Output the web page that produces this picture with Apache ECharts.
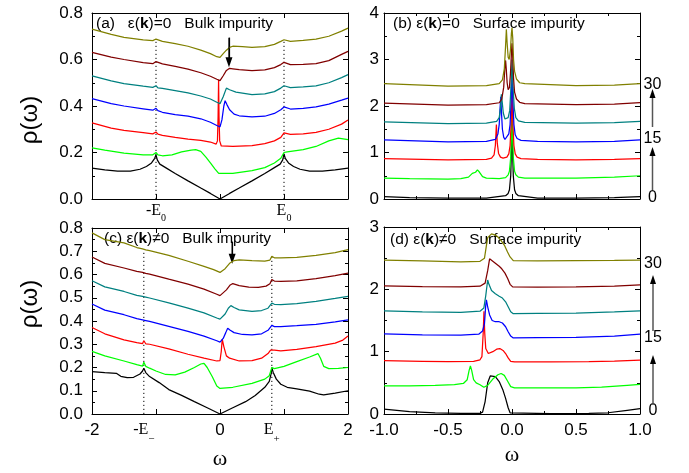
<!DOCTYPE html>
<html><head><meta charset="utf-8">
<script src="https://cdn.jsdelivr.net/npm/echarts@6/dist/echarts.min.js"></script>
<style>html,body{margin:0;padding:0;background:#fff}#c{width:689px;height:473px}</style>
</head><body><div id="c"></div>
<script>
// ---------- colours (series order 0 -> 30) ----------
const lineColors = ['#000000', '#00ff00', '#ff0000', '#0000ff', '#008080', '#800000', '#808000'];

// ---------- panel (a): eps(k)=0, bulk impurity ----------
const a_black = [[-2,0.133],[-1.8,0.125],[-1.6,0.12],[-1.4,0.12],[-1.25,0.128],[-1.15,0.14],[-1.07,0.155],[-1.02,0.175],[-1,0.19],[-0.98,0.168],[-0.94,0.15],[-0.85,0.135],[-0.7,0.11],[-0.5,0.078],[-0.3,0.047],[-0.15,0.024],[0,0],[0.15,0.024],[0.3,0.047],[0.5,0.078],[0.7,0.11],[0.85,0.135],[0.94,0.15],[0.98,0.168],[1,0.194],[1.02,0.175],[1.07,0.155],[1.15,0.14],[1.25,0.128],[1.4,0.12],[1.6,0.12],[1.8,0.125],[2,0.133]];
const a_green = [[-2,0.22],[-1.8,0.21],[-1.5,0.197],[-1.2,0.19],[-1.05,0.19],[-1,0.2],[-0.97,0.19],[-0.9,0.186],[-0.75,0.19],[-0.6,0.203],[-0.45,0.21],[-0.38,0.212],[-0.3,0.205],[-0.22,0.18],[-0.15,0.155],[-0.08,0.13],[-0.02,0.11],[0,0.105],[0.2,0.11],[0.5,0.122],[0.7,0.135],[0.85,0.155],[0.95,0.175],[1,0.2],[1.05,0.203],[1.3,0.212],[1.5,0.226],[1.7,0.25],[1.85,0.262],[1.95,0.258],[2,0.255]];
const a_red = [[-2,0.327],[-1.7,0.305],[-1.5,0.295],[-1.2,0.285],[-1.05,0.28],[-1,0.288],[-0.97,0.279],[-0.9,0.274],[-0.7,0.265],[-0.5,0.258],[-0.3,0.252],[-0.15,0.245],[-0.06,0.236],[-0.04,0.25],[-0.03,0.35],[-0.022,0.513],[-0.015,0.35],[-0.005,0.25],[0.02,0.228],[0.2,0.226],[0.5,0.23],[0.7,0.238],[0.85,0.25],[0.95,0.265],[1,0.284],[1.03,0.279],[1.1,0.278],[1.3,0.28],[1.5,0.287],[1.7,0.3],[1.9,0.322],[2,0.34]];
const a_blue = [[-2,0.432],[-1.7,0.41],[-1.5,0.4],[-1.2,0.388],[-1.05,0.382],[-1,0.39],[-0.97,0.38],[-0.9,0.373],[-0.7,0.363],[-0.5,0.356],[-0.3,0.345],[-0.15,0.33],[-0.05,0.316],[0,0.31],[0.03,0.34],[0.06,0.4],[0.08,0.423],[0.11,0.405],[0.15,0.384],[0.22,0.365],[0.3,0.358],[0.5,0.353],[0.7,0.356],[0.85,0.368],[0.95,0.384],[1,0.396],[1.03,0.388],[1.1,0.387],[1.3,0.39],[1.5,0.396],[1.7,0.408],[1.9,0.425],[2,0.434]];
const a_teal = [[-2,0.53],[-1.7,0.508],[-1.5,0.496],[-1.2,0.485],[-1.05,0.48],[-1,0.487],[-0.97,0.478],[-0.9,0.476],[-0.7,0.466],[-0.5,0.456],[-0.3,0.443],[-0.15,0.43],[-0.05,0.416],[0,0.41],[0.05,0.44],[0.1,0.477],[0.15,0.47],[0.25,0.46],[0.5,0.449],[0.7,0.452],[0.85,0.462],[0.95,0.477],[1,0.487],[1.03,0.48],[1.1,0.479],[1.3,0.482],[1.5,0.487],[1.7,0.5],[1.9,0.522],[2,0.535]];
const a_darkred = [[-2,0.631],[-1.7,0.61],[-1.5,0.6],[-1.2,0.587],[-1.05,0.582],[-1,0.591],[-0.97,0.583],[-0.9,0.581],[-0.7,0.57],[-0.5,0.559],[-0.3,0.543],[-0.15,0.528],[-0.05,0.515],[0,0.509],[0.05,0.53],[0.1,0.553],[0.15,0.562],[0.2,0.56],[0.3,0.556],[0.5,0.552],[0.7,0.555],[0.85,0.565],[0.95,0.578],[1,0.588],[1.03,0.58],[1.1,0.578],[1.3,0.579],[1.5,0.582],[1.7,0.595],[1.9,0.622],[2,0.635]];
const a_olive = [[-2,0.731],[-1.7,0.708],[-1.5,0.695],[-1.2,0.684],[-1.05,0.681],[-1,0.688],[-0.97,0.68],[-0.9,0.678],[-0.7,0.668],[-0.5,0.657],[-0.3,0.64],[-0.15,0.625],[-0.05,0.612],[0,0.609],[0.05,0.625],[0.1,0.64],[0.15,0.652],[0.2,0.657],[0.35,0.655],[0.5,0.652],[0.7,0.655],[0.85,0.665],[0.95,0.678],[1,0.685],[1.03,0.679],[1.1,0.678],[1.3,0.682],[1.5,0.688],[1.7,0.7],[1.9,0.722],[2,0.735]];

// ---------- panel (b): eps(k)=0, surface impurity ----------
const b_black = [[-1,0.05],[-0.8,0.03],[-0.5,0.02],[-0.2,0.02],[-0.05,0.07],[-0.03,0.12],[-0.02,0.2],[-0.01,0.5],[-0.005,1.0],[0,1.6],[0.005,1.0],[0.01,0.5],[0.02,0.2],[0.03,0.12],[0.05,0.07],[0.2,0.02],[0.5,0.02],[0.8,0.03],[1,0.05]];
const b_green = [[-1,0.45],[-0.8,0.44],[-0.5,0.43],[-0.4,0.44],[-0.34,0.47],[-0.31,0.55],[-0.295,0.59],[-0.285,0.575],[-0.27,0.625],[-0.255,0.58],[-0.23,0.48],[-0.2,0.45],[-0.1,0.44],[-0.05,0.46],[-0.03,0.52],[-0.02,0.6],[-0.01,0.9],[-0.005,1.3],[0,1.9],[0.005,1.3],[0.01,0.9],[0.02,0.6],[0.03,0.52],[0.05,0.47],[0.1,0.45],[0.5,0.45],[0.8,0.47],[1,0.5]];
const b_red = [[-1,0.87],[-0.5,0.84],[-0.2,0.85],[-0.16,0.88],[-0.14,0.95],[-0.13,1.15],[-0.122,1.6],[-0.115,1.2],[-0.105,0.98],[-0.09,0.9],[-0.07,0.88],[-0.04,0.9],[-0.025,0.97],[-0.015,1.15],[-0.007,1.6],[0,2.3],[0.007,1.6],[0.015,1.15],[0.025,0.97],[0.04,0.9],[0.07,0.87],[0.2,0.85],[0.5,0.84],[0.8,0.85],[1,0.87]];
const b_blue = [[-1,1.27],[-0.5,1.23],[-0.2,1.24],[-0.13,1.28],[-0.11,1.4],[-0.1,1.6],[-0.092,2.0],[-0.088,2.2],[-0.083,1.9],[-0.075,1.5],[-0.065,1.33],[-0.055,1.28],[-0.04,1.3],[-0.025,1.4],[-0.015,1.6],[-0.007,2.1],[0,2.7],[0.007,2.1],[0.015,1.6],[0.025,1.38],[0.04,1.3],[0.07,1.26],[0.2,1.24],[0.5,1.23],[0.8,1.24],[1,1.27]];
const b_teal = [[-1,1.66],[-0.5,1.62],[-0.2,1.63],[-0.12,1.67],[-0.1,1.75],[-0.09,1.95],[-0.083,2.25],[-0.077,2.1],[-0.068,1.85],[-0.055,1.72],[-0.045,1.7],[-0.03,1.75],[-0.018,1.9],[-0.008,2.4],[0,3.0],[0.008,2.4],[0.018,1.95],[0.03,1.75],[0.05,1.68],[0.1,1.65],[0.5,1.63],[0.8,1.64],[1,1.67]];
const b_darkred = [[-1,2.06],[-0.5,2.02],[-0.2,2.03],[-0.1,2.07],[-0.08,2.15],[-0.065,2.4],[-0.055,2.85],[-0.05,2.98],[-0.045,2.8],[-0.038,2.5],[-0.03,2.35],[-0.02,2.4],[-0.012,2.7],[-0.005,3.1],[0,3.35],[0.005,3.1],[0.012,2.6],[0.02,2.3],[0.035,2.15],[0.06,2.08],[0.1,2.05],[0.5,2.03],[0.8,2.04],[1,2.07]];
const b_olive = [[-1,2.48],[-0.5,2.43],[-0.2,2.44],[-0.1,2.48],[-0.075,2.56],[-0.06,2.8],[-0.05,3.3],[-0.044,3.65],[-0.038,3.35],[-0.03,3.05],[-0.022,3.0],[-0.012,3.2],[-0.005,3.55],[0,3.68],[0.006,3.45],[0.012,3.0],[0.02,2.75],[0.035,2.58],[0.06,2.5],[0.1,2.48],[0.5,2.44],[0.8,2.45],[1,2.48]];

// ---------- panel (c): eps(k)!=0, bulk impurity ----------
const c_black = [[-2,0.182],[-1.8,0.178],[-1.62,0.175],[-1.55,0.162],[-1.45,0.156],[-1.35,0.158],[-1.25,0.172],[-1.21,0.185],[-1.19,0.197],[-1.16,0.178],[-1.1,0.161],[-0.95,0.135],[-0.8,0.105],[-0.6,0.08],[-0.4,0.053],[-0.2,0.027],[0,0],[0.2,0.027],[0.4,0.053],[0.55,0.08],[0.7,0.115],[0.77,0.14],[0.8,0.175],[0.81,0.2],[0.83,0.18],[0.88,0.15],[0.95,0.128],[1.05,0.115],[1.2,0.108],[1.4,0.098],[1.55,0.085],[1.62,0.082],[1.8,0.09],[2,0.1]];
const c_green = [[-2,0.269],[-1.8,0.25],[-1.5,0.228],[-1.3,0.212],[-1.21,0.206],[-1.19,0.223],[-1.16,0.205],[-1.1,0.197],[-1,0.185],[-0.85,0.17],[-0.7,0.168],[-0.55,0.18],[-0.4,0.2],[-0.3,0.215],[-0.25,0.218],[-0.2,0.2],[-0.12,0.16],[-0.05,0.12],[0,0.11],[0.2,0.115],[0.5,0.132],[0.7,0.15],[0.77,0.165],[0.81,0.2],[0.85,0.195],[1,0.205],[1.2,0.225],[1.4,0.245],[1.53,0.26],[1.57,0.24],[1.62,0.205],[1.7,0.195],[1.85,0.196],[2,0.2]];
const c_red = [[-2,0.372],[-1.8,0.345],[-1.5,0.319],[-1.3,0.307],[-1.21,0.303],[-1.19,0.315],[-1.16,0.302],[-1.1,0.3],[-0.8,0.28],[-0.5,0.257],[-0.25,0.24],[-0.05,0.228],[0,0.23],[0.02,0.27],[0.035,0.322],[0.06,0.29],[0.1,0.25],[0.15,0.24],[0.3,0.228],[0.5,0.23],[0.65,0.24],[0.75,0.26],[0.79,0.275],[0.81,0.283],[0.85,0.275],[0.95,0.272],[1.2,0.278],[1.5,0.29],[1.8,0.305],[1.92,0.318],[2,0.335]];
const c_blue = [[-2,0.473],[-1.8,0.447],[-1.5,0.427],[-1.3,0.41],[-1.21,0.405],[-1.19,0.413],[-1.16,0.402],[-1.1,0.398],[-0.8,0.377],[-0.5,0.355],[-0.25,0.335],[-0.05,0.315],[0,0.309],[0.05,0.325],[0.09,0.35],[0.12,0.369],[0.16,0.36],[0.22,0.35],[0.35,0.342],[0.5,0.34],[0.65,0.345],[0.75,0.36],[0.81,0.381],[0.85,0.376],[0.95,0.376],[1.2,0.38],[1.5,0.386],[1.8,0.396],[2,0.405]];
const c_teal = [[-2,0.573],[-1.8,0.547],[-1.5,0.527],[-1.3,0.51],[-1.21,0.506],[-1.19,0.513],[-1.16,0.503],[-1.1,0.499],[-0.8,0.478],[-0.5,0.455],[-0.25,0.435],[-0.05,0.413],[0,0.408],[0.08,0.43],[0.13,0.455],[0.17,0.466],[0.22,0.458],[0.3,0.448],[0.5,0.441],[0.65,0.445],[0.75,0.455],[0.81,0.477],[0.85,0.472],[0.95,0.47],[1.2,0.475],[1.5,0.484],[1.8,0.497],[2,0.506]];
const c_darkred = [[-2,0.675],[-1.8,0.648],[-1.5,0.628],[-1.3,0.613],[-1.21,0.609],[-1.19,0.616],[-1.16,0.605],[-1.1,0.602],[-0.8,0.58],[-0.5,0.559],[-0.25,0.537],[-0.05,0.515],[0,0.509],[0.1,0.534],[0.16,0.555],[0.2,0.561],[0.3,0.552],[0.45,0.546],[0.6,0.545],[0.72,0.55],[0.78,0.56],[0.81,0.578],[0.85,0.572],[0.95,0.57],[1.2,0.573],[1.5,0.582],[1.8,0.595],[2,0.606]];
const c_olive = [[-2,0.779],[-1.8,0.75],[-1.5,0.736],[-1.3,0.716],[-1.21,0.71],[-1.19,0.717],[-1.16,0.706],[-1.1,0.703],[-0.8,0.682],[-0.5,0.657],[-0.25,0.635],[-0.1,0.621],[0,0.609],[0.08,0.625],[0.15,0.648],[0.22,0.66],[0.3,0.663],[0.5,0.66],[0.7,0.658],[0.78,0.662],[0.81,0.678],[0.85,0.672],[0.95,0.671],[1.2,0.674],[1.5,0.682],[1.8,0.694],[2,0.707]];

// ---------- panel (d): eps(k)!=0, surface impurity ----------
const d_black = [[-1,0.08],[-0.9,0.06],[-0.8,0.04],[-0.6,0.02],[-0.4,0.01],[-0.25,0.01],[-0.23,0.03],[-0.21,0.2],[-0.19,0.5],[-0.17,0.61],[-0.155,0.635],[-0.13,0.6],[-0.1,0.52],[-0.07,0.38],[-0.05,0.25],[-0.03,0.1],[-0.015,0.02],[0,0.01],[0.3,0.005],[0.6,0.01],[0.75,0.02],[0.9,0.06],[1,0.085]];
const d_green = [[-1,0.45],[-0.8,0.45],[-0.6,0.46],[-0.45,0.47],[-0.38,0.49],[-0.35,0.55],[-0.335,0.7],[-0.325,0.77],[-0.315,0.7],[-0.3,0.55],[-0.28,0.5],[-0.25,0.47],[-0.22,0.43],[-0.19,0.46],[-0.15,0.56],[-0.11,0.63],[-0.085,0.65],[-0.06,0.62],[-0.035,0.53],[-0.01,0.44],[0.02,0.42],[0.2,0.42],[0.5,0.42],[0.7,0.43],[0.9,0.46],[1,0.475]];
const d_red = [[-1,0.855],[-0.7,0.845],[-0.5,0.84],[-0.3,0.845],[-0.25,0.87],[-0.235,0.92],[-0.225,1.3],[-0.219,1.65],[-0.213,1.3],[-0.205,1.05],[-0.185,0.97],[-0.15,1.0],[-0.12,1.04],[-0.095,1.05],[-0.07,1.02],[-0.05,0.97],[-0.03,0.9],[-0.01,0.845],[0.02,0.835],[0.3,0.835],[0.6,0.84],[0.8,0.85],[1,0.865]];
const d_blue = [[-1,1.287],[-0.7,1.27],[-0.4,1.265],[-0.26,1.28],[-0.23,1.33],[-0.215,1.45],[-0.205,1.75],[-0.2,1.83],[-0.19,1.72],[-0.175,1.59],[-0.155,1.5],[-0.13,1.48],[-0.1,1.48],[-0.075,1.46],[-0.05,1.4],[-0.03,1.32],[-0.01,1.25],[0.01,1.22],[0.2,1.225],[0.5,1.23],[0.8,1.25],[1,1.28]];
const d_teal = [[-1,1.655],[-0.7,1.64],[-0.4,1.63],[-0.25,1.65],[-0.22,1.7],[-0.205,1.9],[-0.19,2.15],[-0.18,2.08],[-0.16,1.98],[-0.13,1.93],[-0.1,1.89],[-0.075,1.86],[-0.05,1.8],[-0.03,1.72],[-0.01,1.64],[0.01,1.61],[0.2,1.615],[0.5,1.62],[0.8,1.64],[1,1.655]];
const d_darkred = [[-1,2.056],[-0.7,2.045],[-0.4,2.04],[-0.25,2.05],[-0.21,2.1],[-0.19,2.3],[-0.175,2.49],[-0.16,2.46],[-0.125,2.41],[-0.1,2.37],[-0.08,2.33],[-0.055,2.26],[-0.033,2.17],[-0.015,2.08],[0.005,2.04],[0.2,2.035],[0.5,2.04],[0.8,2.05],[1,2.07]];
const d_olive = [[-1,2.47],[-0.7,2.455],[-0.4,2.44],[-0.25,2.45],[-0.215,2.5],[-0.2,2.7],[-0.19,2.83],[-0.16,2.89],[-0.13,2.87],[-0.11,2.84],[-0.085,2.78],[-0.06,2.71],[-0.035,2.6],[-0.015,2.52],[0.01,2.46],[0.2,2.455],[0.5,2.46],[0.8,2.465],[1,2.47]];

// ---------- reference markers ----------
const a_dotted = [[[-1,0],[-1,0.685]], [[1,0],[1,0.685]]];
const c_dotted = [[[-1.19,0],[-1.19,0.705]], [[0.81,0],[0.81,0.677]]];
const a_arrow = [[0.14,0.694],[0.14,0.588]];
const c_arrow = [[0.19,0.741],[0.19,0.668]];
const c_xlabelValues = [-2,-1.19,0,0.81,2];
const sideLabels = ['30','15','0'];

const panels = [
  [a_black,a_green,a_red,a_blue,a_teal,a_darkred,a_olive],
  [b_black,b_green,b_red,b_blue,b_teal,b_darkred,b_olive],
  [c_black,c_green,c_red,c_blue,c_teal,c_darkred,c_olive],
  [d_black,d_green,d_red,d_blue,d_teal,d_darkred,d_olive]
];

const SANS = 'Liberation Sans';
const SERIF = 'Liberation Serif';
const black = '#000';

function xAxisDef(grid, min, max, interval, position, label, minor) {
  return {
    type: 'value', gridIndex: grid, min, max, interval, position,
    axisLine: {onZero: false, lineStyle: {color: black, width: 1}},
    axisTick: {inside: true, length: 5, lineStyle: {color: black}},
    minorTick: {show: !!minor, splitNumber: 2, length: 3, lineStyle: {color: black}},
    splitLine: {show: false}, minorSplitLine: {show: false},
    axisLabel: label ? Object.assign({color: black, fontFamily: SANS, fontSize: 17, margin: 8}, label) : {show: false}
  };
}
function yAxisDef(grid, min, max, interval, position, label, minor) {
  return {
    type: 'value', gridIndex: grid, min, max, interval, position,
    axisLine: {onZero: false, lineStyle: {color: black, width: 1}},
    axisTick: {inside: true, length: 5, lineStyle: {color: black}},
    minorTick: {show: !!minor, splitNumber: 2, length: 3, lineStyle: {color: black}},
    splitLine: {show: false}, minorSplitLine: {show: false},
    axisLabel: label ? Object.assign({color: black, fontFamily: SANS, fontSize: 17}, label) : {show: false}
  };
}

const aRich = {
  e: {fontFamily: SERIF, fontSize: 16, color: black, lineHeight: 18, verticalAlign: 'top'},
  s: {fontFamily: SERIF, fontSize: 10, color: black, lineHeight: 20, verticalAlign: 'bottom'}
};
const cRich = {
  e: {fontFamily: SERIF, fontSize: 16, color: black, lineHeight: 22, verticalAlign: 'top'},
  s: {fontFamily: SERIF, fontSize: 11, color: black, lineHeight: 23, verticalAlign: 'bottom'},
  n: {fontFamily: SANS, fontSize: 17, color: black, lineHeight: 22, verticalAlign: 'top'}
};

const xAxes = [
  xAxisDef(0, -2, 2, 1, 'bottom', {margin: 4, rich: aRich, formatter: v => v === -1 ? '{e|-E}{s|0}' : (v === 1 ? '{e|E}{s|0}' : '')}),
  xAxisDef(0, -2, 2, 1, 'top', null),
  xAxisDef(1, -1, 1, 0.5, 'bottom', null, true),
  xAxisDef(1, -1, 1, 0.5, 'top', null, true),
  xAxisDef(2, -2, 2, 1, 'bottom', {margin: 8, customValues: c_xlabelValues, rich: cRich, formatter: v => {
      if (Math.abs(v + 1.19) < 1e-6) return '{e|-E}{s|−}';
      if (Math.abs(v - 0.81) < 1e-6) return '{e|E}{s|+}';
      if (v === -2 || v === 0 || v === 2) return '{n|' + v + '}';
      return '';
    }}),
  xAxisDef(2, -2, 2, 1, 'top', null),
  xAxisDef(3, -1, 1, 0.5, 'bottom', {margin: 8, formatter: v => v.toFixed(1)}, true),
  xAxisDef(3, -1, 1, 0.5, 'top', null, true)
];
const yAxes = [
  yAxisDef(0, 0, 0.8, 0.2, 'left', {margin: 9, formatter: v => v.toFixed(1)}, true),
  yAxisDef(0, 0, 0.8, 0.2, 'right', null, true),
  yAxisDef(1, 0, 4, 1, 'left', {margin: 5}, true),
  yAxisDef(1, 0, 4, 1, 'right', null, true),
  yAxisDef(2, 0, 0.8, 0.1, 'left', {margin: 9, formatter: v => v.toFixed(1)}, true),
  yAxisDef(2, 0, 0.8, 0.1, 'right', null, true),
  yAxisDef(3, 0, 3, 1, 'left', {margin: 5}, true),
  yAxisDef(3, 0, 3, 1, 'right', null, true)
];

const series = [];
panels.forEach((curves, p) => {
  curves.forEach((data, i) => {
    series.push({
      type: 'line', xAxisIndex: 2 * p, yAxisIndex: 2 * p, data,
      symbol: 'none', showSymbol: false, silent: true, animation: false,
      lineStyle: {color: lineColors[i], width: 1.25}, z: 2 + i
    });
  });
});
function dotted(p, segs) {
  segs.forEach(seg => series.push({
    type: 'line', xAxisIndex: 2 * p, yAxisIndex: 2 * p, data: seg,
    symbol: 'none', showSymbol: false, silent: true, animation: false,
    lineStyle: {color: black, width: 1, type: [1.2, 2.8]}, z: 1
  }));
}
dotted(0, a_dotted);
dotted(2, c_dotted);
function arrow(p, pts) {
  series.push({
    type: 'line', xAxisIndex: 2 * p, yAxisIndex: 2 * p, data: pts, silent: true, animation: false,
    symbol: 'none', showSymbol: false, lineStyle: {color: black, width: 1.2}, z: 20,
    markLine: {
      silent: true, animation: false, symbol: ['none', 'triangle'], symbolSize: [7, 10], label: {show: false},
      lineStyle: {color: black, width: 1.2, type: 'solid'},
      data: [[{coord: pts[0]}, {coord: pts[1]}]]
    }
  });
}
arrow(0, a_arrow);
arrow(2, c_arrow);

const titleRich = {
  t: {fontFamily: SANS, fontSize: 15.5, color: black},
  b: {fontFamily: SANS, fontSize: 15.5, color: black, fontWeight: 'bold'}
};
function ttl(text, left, top) {
  return {text, left, top, padding: 0, textStyle: {rich: titleRich, fontSize: 15.5, fontWeight: 'normal'}};
}

function sideAnn(x, yLabels, arrows) {
  const els = [];
  sideLabels.forEach((t, k) => els.push({type: 'text', x: x, y: yLabels[k],
    style: {text: t, fontFamily: SANS, fontSize: 16, fill: black, align: 'center', verticalAlign: 'middle'}}));
  arrows.forEach(a => {
    els.push({type: 'line', shape: {x1: x, y1: a[0], x2: x, y2: a[1] + 6}, style: {stroke: '#555', lineWidth: 1.5}});
    els.push({type: 'polygon', shape: {points: [[x, a[1]], [x - 3, a[1] + 9], [x + 3, a[1] + 9]]}, style: {fill: black}});
  });
  return els;
}

const graphic = [
  {type: 'text', x: 30, y: 120, rotation: Math.PI / 2, style: {text: 'ρ(ω)', fontFamily: SANS, fontSize: 24, fill: black, align: 'center', verticalAlign: 'middle'}},
  {type: 'text', x: 30, y: 304, rotation: Math.PI / 2, style: {text: 'ρ(ω)', fontFamily: SANS, fontSize: 24, fill: black, align: 'center', verticalAlign: 'middle'}},
  {type: 'text', x: 220, y: 459, style: {text: 'ω', fontFamily: SERIF, fontSize: 22, fill: black, align: 'center', verticalAlign: 'middle'}},
  {type: 'text', x: 512, y: 455, style: {text: 'ω', fontFamily: SERIF, fontSize: 22, fill: black, align: 'center', verticalAlign: 'middle'}}
].concat(sideAnn(652.5, [85, 139, 198], [[190, 147], [127, 89]]))
 .concat(sideAnn(653, [264, 338, 411], [[405, 355], [331, 275]]));

const chart = echarts.init(document.getElementById('c'), null, {renderer: 'canvas'});
chart.setOption({
  backgroundColor: '#fff',
  animation: false,
  title: [
    ttl('{t|(a)   ε(}{b|k}{t|)=0   Bulk impurity}', 96, 16),
    ttl('{t|(b) ε(}{b|k}{t|)=0   Surface impurity}', 393, 16),
    ttl('{t|(c) ε(}{b|k}{t|)≠0   Bulk impurity}', 104, 231),
    ttl('{t|(d) ε(}{b|k}{t|)≠0   Surface impurity}', 390, 232)
  ],
  grid: [
    {left: 92, top: 13, width: 256, height: 186},
    {left: 384, top: 13, width: 256, height: 186},
    {left: 92, top: 228, width: 256, height: 186},
    {left: 384, top: 227, width: 256, height: 187}
  ],
  xAxis: xAxes,
  yAxis: yAxes,
  series,
  graphic
});
</script></body></html>
